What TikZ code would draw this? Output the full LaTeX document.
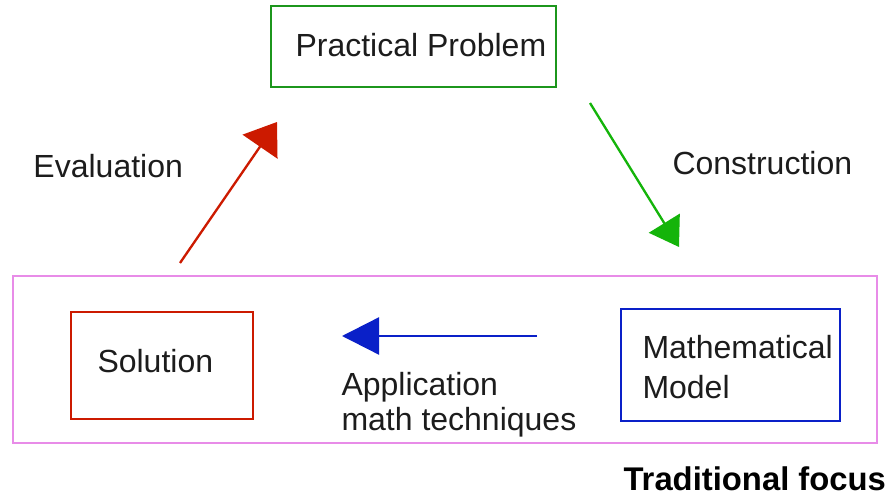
\documentclass[tikz,border=0pt]{standalone}
\usepackage{fontspec}
\setmainfont{Liberation Sans}
\usetikzlibrary{arrows.meta,fit}

\tikzset{every picture/.style={line width=0.75pt}}

\definecolor{solutionred}{RGB}{204,26,0}
\definecolor{problemgreen}{RGB}{28,150,28}
\definecolor{constructgreen}{RGB}{20,180,10}
\definecolor{modelblue}{RGB}{10,32,200}
\definecolor{focuspink}{RGB}{232,140,232}
\definecolor{labelgray}{RGB}{28,28,28}

\begin{document}
\begin{tikzpicture}[x=0.75pt,y=0.75pt,yscale=-1,xscale=1,
  box/.style={draw, line width=2pt, inner sep=0pt},
  txt/.style={anchor=base west, inner sep=0pt, text=labelgray, font=\fontsize{24}{30}\selectfont}]
\useasboundingbox (0,0) rectangle (896,495);

%Shape: Rectangle [focus frame]
\node (focus) [box, draw=focuspink, line width=1pt, fit={(13,276) (877,443)}] {};
%Shape: Rectangle [boxes]
\node (problem) [box, draw=problemgreen, fit={(271,6) (556,87)}] {};
\node (solution) [box, draw=solutionred, fit={(71,312) (253,419)}] {};
\node (model) [box, draw=modelblue, fit={(621,309) (840,421)}] {};

% Text Node
\node (problemtext) [txt] at (295,57) {Practical Problem};
% Text Node
\node (solutiontext) [txt] at (97,373) {Solution};
% Text Node (base = last line)
\node (modeltext) [txt, align=left] at (642,398) {Mathematical\\Model};
% Text Node
\node (evaltext) [txt] at (33,178) {Evaluation};
% Text Node
\node (constructtext) [txt] at (672,175) {Construction};
% Text Node (base = last line)
\node (applytext) [txt, align=left, font=\fontsize{24}{26.25}\selectfont] at (341,430) {Application\\math techniques};
% Text Node
\node (focustext) [txt, text=black, font=\fontsize{24.6}{30}\selectfont\bfseries] at (623,490) {Traditional focus};

%Straight Lines [arrows]
\coordinate (evalfrom) at (180,263);
\coordinate (evalto) at (277,122);
\coordinate (constructfrom) at (590,103);
\coordinate (constructto) at (679,247);
\coordinate (applyfrom) at (537,336);
\coordinate (applyto) at (342,336);
\draw [solutionred, line width=1.75pt, -{Triangle[length=22.5pt,width=31.5pt]}] (evalfrom) -- (evalto);
\draw [constructgreen, line width=1.75pt, -{Triangle[length=21pt,width=27pt]}] (constructfrom) -- (constructto);
\draw [modelblue, line width=1.75pt, -{Triangle[length=27.75pt,width=27.75pt]}] (applyfrom) -- (applyto);

\end{tikzpicture}
\end{document}
